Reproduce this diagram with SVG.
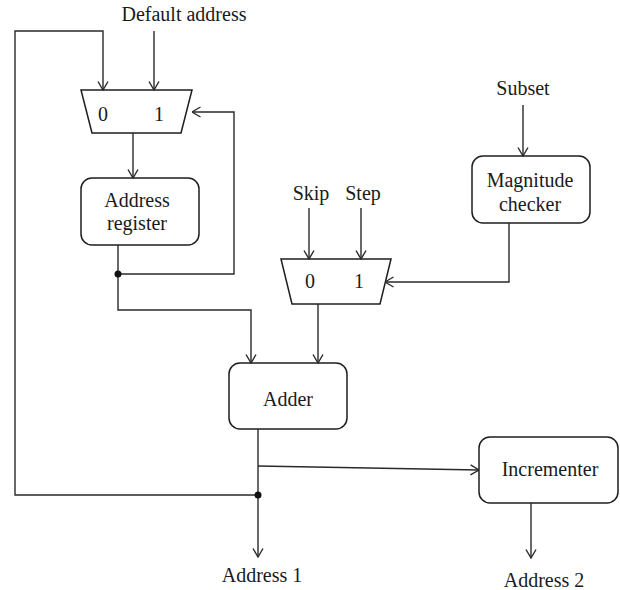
<svg xmlns="http://www.w3.org/2000/svg" width="620" height="590" viewBox="0 0 620 590">
  <style>
    .box { fill: #ffffff; stroke: #1e1e1e; stroke-width: 1.5; }
    .wire { fill: none; stroke: #2a2a2a; stroke-width: 1.4; }
    .arrow { fill: none; stroke: #2a2a2a; stroke-width: 1.4; marker-end: url(#open); }
    .lbl { font-family: "Liberation Serif", "Times New Roman", serif; font-size: 20px; fill: #1a1a1a; text-anchor: middle; }
    .dot { fill: #111111; }
  </style>
  <defs>
    <marker id="open" viewBox="0 0 10 12" refX="9.5" refY="6" markerWidth="10" markerHeight="12" orient="auto" markerUnits="userSpaceOnUse">
      <path d="M1,1 L9.5,6 L1,11" fill="none" stroke="#2a2a2a" stroke-width="1.4"/>
    </marker>
  </defs>

  <rect width="620" height="590" fill="#ffffff"/>

  <!-- external input / output labels -->
  <g id="labels">
    <text class="lbl" x="184" y="21">Default address</text>
    <text class="lbl" x="523" y="95">Subset</text>
    <text class="lbl" x="311" y="200">Skip</text>
    <text class="lbl" x="363" y="200">Step</text>
    <text class="lbl" x="262" y="582">Address 1</text>
    <text class="lbl" x="544" y="587">Address 2</text>
  </g>

  <!-- address multiplexer -->
  <g id="mux-address">
    <polygon class="box" points="81,90 192,90 181,133 92,133"/>
    <text class="lbl" x="103" y="121">0</text>
    <text class="lbl" x="159" y="121">1</text>
  </g>

  <!-- address register -->
  <g id="address-register">
    <rect class="box" x="81" y="178" width="118" height="67" rx="11"/>
    <text class="lbl" x="137" y="207">Address</text>
    <text class="lbl" x="137" y="230">register</text>
  </g>

  <!-- magnitude checker -->
  <g id="magnitude-checker">
    <rect class="box" x="472" y="156" width="118" height="67" rx="11"/>
    <text class="lbl" x="530" y="187">Magnitude</text>
    <text class="lbl" x="530" y="211">checker</text>
  </g>

  <!-- skip/step multiplexer -->
  <g id="mux-step">
    <polygon class="box" points="281,259 391,259 380,304 292,304"/>
    <text class="lbl" x="310" y="288">0</text>
    <text class="lbl" x="359" y="288">1</text>
  </g>

  <!-- adder -->
  <g id="adder">
    <rect class="box" x="229" y="363" width="118" height="66" rx="11"/>
    <text class="lbl" x="288" y="406">Adder</text>
  </g>

  <!-- incrementer -->
  <g id="incrementer">
    <rect class="box" x="479" y="437" width="139" height="66" rx="11"/>
    <text class="lbl" x="550" y="476">Incrementer</text>
  </g>

  <!-- connectors -->
  <g id="connectors">
    <!-- default address into mux input 1 -->
    <path class="arrow" d="M154,31 L154,90"/>
    <!-- address 1 feedback into mux input 0 -->
    <path class="arrow" d="M258,495 L15,495 L15,31 L103,31 L103,90"/>
    <!-- mux output into register -->
    <path class="arrow" d="M133,133 L133,178"/>
    <!-- register output to adder -->
    <path class="arrow" d="M118,245 L118,310 L251,310 L251,363"/>
    <!-- register output back to mux select side -->
    <path class="arrow" d="M118,274 L234,274 L234,112 L192,112"/>
    <!-- subset into magnitude checker -->
    <path class="arrow" d="M523,105 L523,156"/>
    <!-- skip / step into second mux -->
    <path class="arrow" d="M309,208 L309,259"/>
    <path class="arrow" d="M361,208 L361,259"/>
    <!-- magnitude checker selects second mux -->
    <path class="arrow" d="M509,223 L509,282 L385,282"/>
    <!-- second mux into adder -->
    <path class="arrow" d="M318,304 L318,363"/>
    <!-- adder output -->
    <path class="arrow" d="M258,429 L258,557"/>
    <path class="arrow" d="M258,466 L479,470"/>
    <!-- incrementer output -->
    <path class="arrow" d="M531,503 L531,558"/>
    <!-- junction dots -->
    <circle class="dot" cx="118" cy="274" r="3.5"/>
    <circle class="dot" cx="258" cy="495" r="3.5"/>
  </g>
</svg>
